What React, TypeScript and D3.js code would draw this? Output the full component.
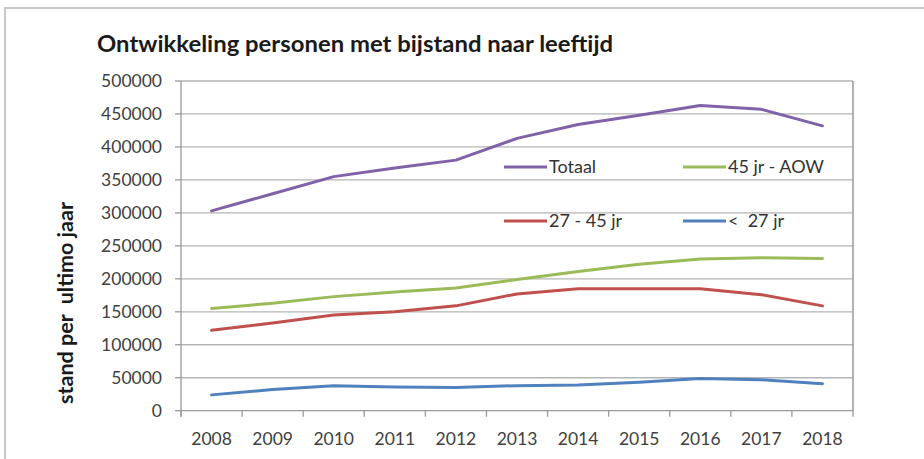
import React from "react";
import * as d3 from "d3";

const years = ["2008","2009","2010","2011","2012","2013","2014","2015","2016","2017","2018"];
const totaal = [303000, 329000, 355000, 368000, 380000, 413000, 434000, 448000, 463000, 457000, 432000];
const aow = [155000, 163000, 173000, 180000, 186000, 199000, 211000, 222000, 230000, 232000, 231000];
const mid = [122000, 133000, 145000, 150000, 159000, 177000, 185000, 185000, 185000, 176000, 159000];
const young = [24000, 32000, 38000, 36000, 35000, 38000, 39000, 43000, 49000, 47000, 41000];
const yTicks = [0, 50000, 100000, 150000, 200000, 250000, 300000, 350000, 400000, 450000, 500000];

const seriesList = [
  { name: "Totaal", values: totaal, color: "#7f62a8", lx: 504, ly: 167 },
  { name: "45 jr - AOW", values: aow, color: "#9bbb59", lx: 683, ly: 167 },
  { name: "27 - 45 jr", values: mid, color: "#c0504d", lx: 504, ly: 221 },
  { name: "<  27 jr", values: young, color: "#4f81bd", lx: 683, ly: 221 },
];

export default function App() {
  const W = 924, H = 459;
  const left = 181, right = 853, top = 81, bottom = 410.7;
  const x = d3.scaleBand<string>().domain(years).range([left, right]).paddingInner(0).paddingOuter(0);
  const y = d3.scaleLinear().domain([0, 500000]).range([bottom, top]);
  const bw = x.bandwidth();
  const cx = (yr: string) => (x(yr) as number) + bw / 2;
  const line = d3.line<number>().x((_, i) => cx(years[i])).y((v) => y(v));
  const font = "Lato, 'Open Sans', sans-serif";
  const boundaries = years.map((yr) => x(yr) as number).concat([right]);

  return (
    <svg width={W} height={H} style={{ position: "absolute", left: 0, top: 0, background: "#fff" }} fontFamily={font}>
      <rect x={0} y={0} width={W} height={H} fill="#fff" />
      {/* outer frame */}
      <line x1={4} x2={W} y1={8} y2={8} stroke="#c8c8c8" strokeWidth={2} />
      <line x1={5} x2={5} y1={8} y2={H} stroke="#c8c8c8" strokeWidth={2} />
      {/* title */}
      <text x={97} y={52} fontSize={22} fontWeight={700} fill="#1a1a1a" textLength={516} lengthAdjust="spacingAndGlyphs">
        Ontwikkeling personen met bijstand naar leeftijd
      </text>
      {/* gridlines */}
      {yTicks.filter((t) => t > 0).map((t) => (
        <line key={t} x1={left} x2={right} y1={y(t)} y2={y(t)} stroke="#b4b4b4" strokeWidth={1.3} />
      ))}
      {/* right border */}
      <line x1={right} x2={right} y1={top} y2={bottom} stroke="#9a9a9a" strokeWidth={1.5} />
      {/* axes */}
      <line x1={left} x2={left} y1={top} y2={bottom + 6} stroke="#9a9a9a" strokeWidth={1.3} />
      <line x1={left} x2={right} y1={bottom} y2={bottom} stroke="#9a9a9a" strokeWidth={1.3} />
      {yTicks.map((t) => (
        <g key={t}>
          <line x1={left - 6} x2={left} y1={y(t)} y2={y(t)} stroke="#9a9a9a" strokeWidth={1.3} />
          <text x={162} y={y(t)} dy="0.36em" textAnchor="end" fontSize={17.5} fill="#404040">{t}</text>
        </g>
      ))}
      {boundaries.map((b, i) => (
        <line key={i} x1={b} x2={b} y1={bottom} y2={bottom + 6} stroke="#9a9a9a" strokeWidth={1.3} />
      ))}
      {years.map((yr) => (
        <text key={yr} x={cx(yr)} y={445} textAnchor="middle" fontSize={17.5} fill="#404040">{yr}</text>
      ))}
      {/* y-axis title */}
      <text transform="translate(73,303) rotate(-90)" textAnchor="middle" fontSize={21.5} fontWeight={700} fill="#1a1a1a" style={{ whiteSpace: "pre" }}>
        {"stand per  ultimo jaar"}
      </text>
      {/* series */}
      {seriesList.map((s) => (
        <path key={s.name} d={line(s.values) || ""} fill="none" stroke={s.color} strokeWidth={3} strokeLinejoin="round" strokeLinecap="round" />
      ))}
      {/* legend */}
      {seriesList.map((s) => (
        <g key={s.name + "-leg"}>
          <line x1={s.lx} x2={s.lx + 43} y1={s.ly} y2={s.ly} stroke={s.color} strokeWidth={3} />
          <text x={s.lx + 45} y={s.ly} dy="0.36em" fontSize={18} fill="#333" style={{ whiteSpace: "pre" }}>{s.name}</text>
        </g>
      ))}
    </svg>
  );
}
